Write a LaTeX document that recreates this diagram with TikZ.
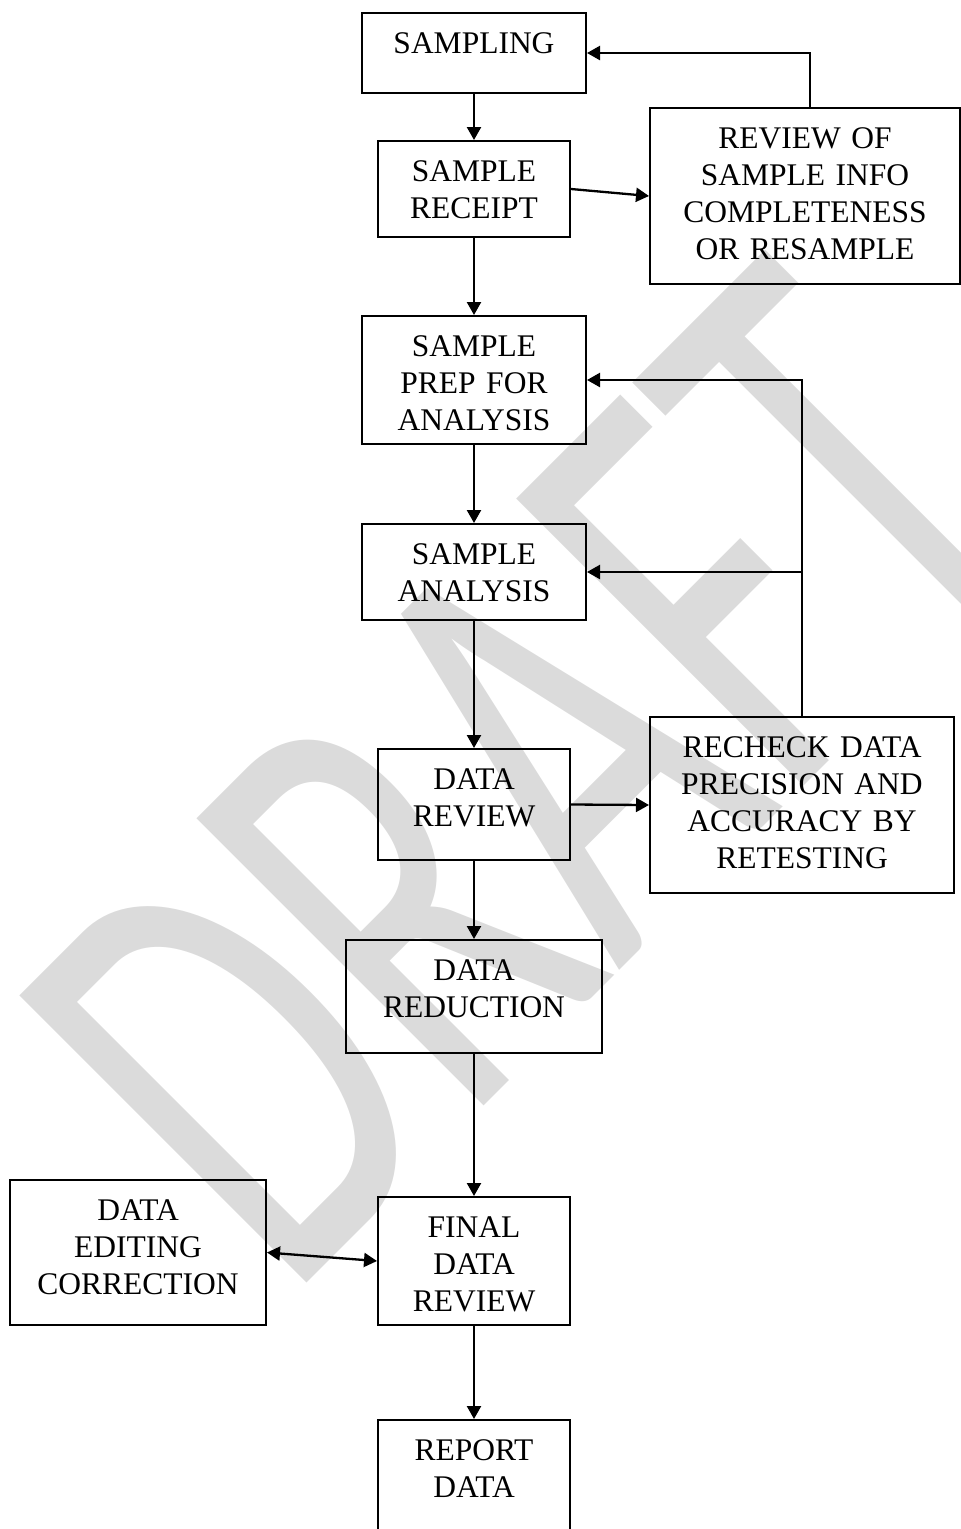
\documentclass[tikz,border=0pt]{standalone}
\usepackage{fontspec}
\setmainfont{Liberation Serif}
\newfontfamily\wmfont{Carlito}
\usepackage{tikz}
\usetikzlibrary{arrows.meta,calc,positioning}

\begin{document}
\begin{tikzpicture}[x=1pt, y=-1pt, >={Triangle[length=13pt,width=14pt]},
  font=\fontsize{31.5}{37}\selectfont,
  box/.style={draw, line width=2pt, align=center, anchor=north,
    inner xsep=0pt, inner ysep=0pt, text height=40pt},
  link/.style={->, line width=2.3pt}]

  \useasboundingbox (0,0) rectangle (961,1529);

  % ----------------------
  % Filigrana DRAFT (sfondo)
  % ----------------------
  \node[rotate=45, anchor=base west, inner sep=0pt, text=black!14] (wm) at (287,1303)
    {\scalebox{0.64}[1]{\wmfont\fontsize{633}{633}\selectfont DRAFT}};

  % ----------------------
  % Colonna principale
  % ----------------------
  \node[box, text width=224pt, text depth=40pt] (sampling) at (474,12) {SAMPLING};
  \node[box, text width=192pt, text depth=56pt] (receipt) at (474,140) {SAMPLE\\RECEIPT};
  \node[box, text width=224pt, text depth=88pt] (prep) at (474,315) {SAMPLE\\PREP FOR\\ANALYSIS};
  \node[box, text width=224pt, text depth=56pt] (analysis) at (474,523) {SAMPLE\\ANALYSIS};
  \node[box, text width=192pt, text depth=71pt] (datareview) at (474,748) {DATA\\REVIEW};
  \node[box, text width=256pt, text depth=73pt] (reduction) at (474,939) {DATA\\REDUCTION};
  \node[box, text width=192pt, text depth=88pt] (final) at (474,1196) {FINAL\\DATA\\REVIEW};
  \node[box, text width=192pt, text depth=140pt] (report) at (474,1419) {REPORT\\DATA};

  % ----------------------
  % Riquadri laterali
  % ----------------------
  \node[box, text width=310pt, text depth=136pt] (review) at (805,107)
    {REVIEW OF\\SAMPLE INFO\\COMPLETENESS\\OR RESAMPLE};
  \node[box, text width=304pt, text depth=136pt] (recheck) at (802,716)
    {RECHECK DATA\\PRECISION AND\\ACCURACY BY\\RETESTING};
  \node[box, text width=256pt, text depth=105pt] (editing) at (138,1179)
    {DATA\\EDITING\\CORRECTION};

  % ----------------------
  % Frecce
  % ----------------------
  \draw[link] (sampling.south) -- (receipt.north);
  \draw[link] (receipt.south) -- (prep.north);
  \draw[link] (prep.south) -- (analysis.north);
  \draw[link] (analysis.south) -- (datareview.north);
  \draw[link] (datareview.south) -- (reduction.north);
  \draw[link] (reduction.south) -- (final.north);
  \draw[link] (final.south) -- (report.north);

  \draw[link] (receipt.east) -- (review.west);
  \draw[link] ([xshift=5pt]review.north) |- (sampling.east);
  \draw[link] (datareview.east) -- (recheck.west);
  \draw[link] (recheck.north) |- (prep.east);
  \draw[link] (recheck.north |- analysis.east) -- (analysis.east);
  \draw[link, <->] (editing.east) -- (final.west);

\end{tikzpicture}
\end{document}
